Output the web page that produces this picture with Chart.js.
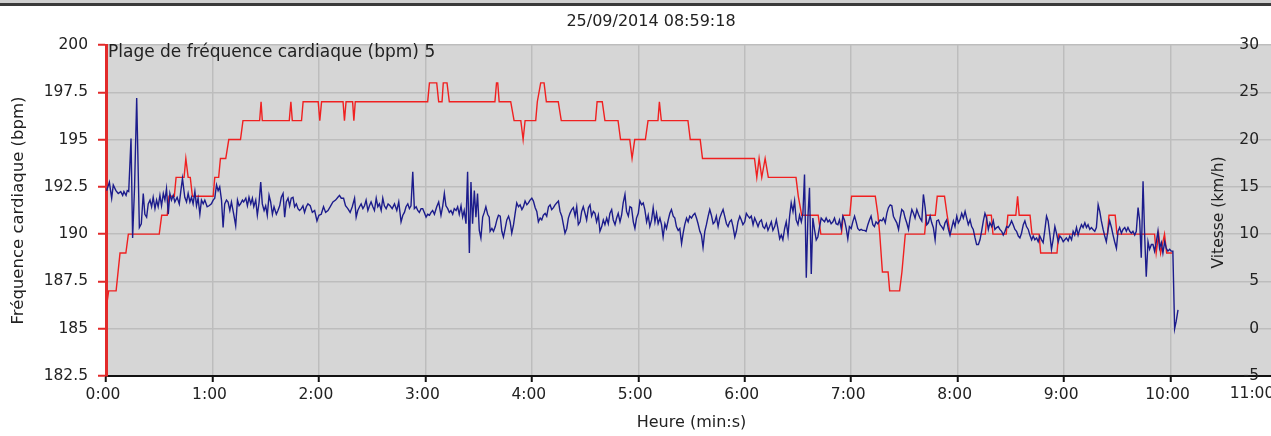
<!DOCTYPE html>
<html lang="fr">
<head>
<meta charset="utf-8">
<title>Fréquence cardiaque et vitesse</title>
<script src="https://cdn.jsdelivr.net/npm/chart.js@4.4.1/dist/chart.umd.min.js"></script>
<style>
  html, body { margin: 0; padding: 0; background: #fff; overflow: hidden; }
  #wrap { position: relative; width: 1271px; height: 436px; overflow: hidden; }
  #wrap canvas { position: absolute; left: 0; top: 0; }
  #topbar { position: absolute; left: 0; top: 0; width: 100%; height: 3px; background: #cfcfcf; border-bottom: 3px solid #3a3a3a; }
</style>
</head>
<body>
<div id="wrap">
  <canvas id="myChart" width="1281" height="436"></canvas>
  <div id="topbar"></div>
</div>
<script>
const dateTitle = "25/09/2014 08:59:18";
const rangeLabel = "Plage de fréquence cardiaque (bpm) 5";

// fréquence cardiaque (bpm), temps en secondes
const hrSec = [0,1.5,5.7,7.9,11.2,12.6,30,31.4,34.5,35.5,38.5,39.5,44,45,46.3,47.5,48.7,60.4,61.3,63.5,
  64.5,67.5,69.2,75.8,77.2,86.6,87.4,88.1,103.3,104.2,105,110.2,111.1,119.6,120.5,121.5,133.6,134.4,135.3,139,
  139.7,140.5,181.3,182.3,186.4,187.5,189.4,190.1,192.2,193.5,219.2,220.1,220.8,221.6,228.1,230,233.8,235.1,236.2,242.2,
  243.1,245,246.9,248.2,254.9,256.6,275.9,276.8,279.7,281.2,288.6,290,295.2,296.5,298,304,305.5,311.1,311.9,313,
  328,329.3,334.9,336.2,365.5,366.8,368.1,369.6,371.5,373.3,388.9,390.2,392.1,401.4,402.9,414.5,415.5,419.2,420.2,433.6,
  435.1,436.1,437.6,440.8,441.7,447.3,448.6,450.5,461.4,462.3,467.4,468.5,472.6,474.1,475.8,495.6,496.5,499,499.9,507.4,
  508.3,512.8,513.8,514.7,520.8,521.9,525.9,526.8,536,536.9,564.5,565.3,568.8,569.8,591,591.9,593.3,594.4,596.6,597.8,
  601];
const hrBpm = [186,187,187,189,189,190,190,191,191,192,192,193,193,194,193,193,192,192,193,193,
  194,194,195,195,196,196,197,196,196,197,196,196,197,197,196,197,197,196,197,197,
  196,197,197,198,198,197,197,198,198,197,197,198,198,197,197,196,196,195,196,196,
  197,198,198,197,197,196,196,197,197,196,196,195,195,194,195,195,196,196,197,196,
  196,195,195,194,194,193,194,193,194,193,193,192,191,191,190,190,191,191,192,192,
  191,190,188,188,187,187,188,190,190,191,191,192,192,191,190,190,191,191,190,190,
  191,191,192,191,191,190,190,189,189,190,190,191,191,190,190,189,190,189,190,189,
  189];

// vitesse (km/h), temps en secondes
const speedSec = [
  0.4,1.9,3.2,4.1,5.6,6.9,8.3,9.4,10.1,11.3,12.0,12.8,14.1,15.0,16.1,17.3,18.8,19.9,21.0,21.9,
  22.9,23.8,24.8,25.7,26.6,27.6,28.5,29.4,30.4,31.3,32.3,33.2,34.1,35.1,36.0,36.9,37.9,38.8,40.1,41.3,
  42.2,43.1,44.4,45.4,46.3,47.3,48.2,49.1,50.1,51.0,51.9,52.9,53.8,54.8,55.7,57.0,58.1,59.4,60.4,61.3,
  62.3,63.2,64.1,65.1,66.0,66.9,67.9,68.8,69.8,70.7,72.0,73.1,74.1,75.0,75.8,76.9,77.6,78.8,79.7,80.6,
  81.6,82.5,83.3,84.4,85.3,86.3,87.2,88.1,89.1,90.0,90.9,91.9,92.8,93.8,94.7,96.0,96.9,97.9,98.8,99.8,
  100.7,101.6,102.6,103.5,104.4,105.4,106.3,107.3,108.2,109.1,110.1,111.0,111.9,112.9,113.8,115.1,116.3,117.6,118.9,120.0,
  121.3,122.6,123.8,125.1,126.4,127.9,129.4,130.7,131.6,132.6,133.9,135.0,136.3,137.6,138.8,140.1,141.0,141.9,142.9,143.8,
  144.8,145.7,146.6,147.6,148.5,149.4,150.4,151.3,152.3,153.2,154.1,155.1,156.0,156.9,157.9,159.0,160.1,161.3,162.6,163.9,
  165.0,166.3,167.3,168.2,169.1,170.1,171.0,171.9,172.9,173.8,174.8,175.7,176.6,177.6,178.5,179.4,180.4,181.3,182.3,183.2,
  184.1,185.1,186.4,187.5,188.8,189.8,190.7,191.6,192.6,193.5,194.4,195.4,196.3,197.3,198.2,199.1,200.1,201.0,201.9,202.9,
  203.8,204.8,205.7,206.6,207.6,208.5,209.4,210.4,211.3,212.3,213.2,214.1,215.1,216.0,
  216.5,217.5,218.4,219.4,220.3,221.2,222.2,223.1,224.0,225.0,225.9,226.9,227.8,228.7,229.7,230.6,
  231.5,232.5,233.4,234.4,235.3,236.2,237.2,238.1,239.0,240.0,240.9,241.9,242.8,243.7,244.7,245.6,
  246.5,247.5,248.4,249.4,250.3,251.2,252.2,253.1,254.0,255.0,255.9,256.9,257.8,258.7,259.7,260.6,
  261.5,262.5,263.4,264.4,265.3,266.2,267.2,268.1,269.0,270.0,270.9,271.9,272.8,273.7,274.7,275.6,
  276.5,277.5,278.4,279.4,280.3,281.2,282.2,283.1,284.0,285.0,285.9,286.9,287.8,288.7,289.7,290.6,
  291.5,292.5,293.4,294.4,295.3,296.2,297.2,298.1,299.0,300.0,300.9,301.9,302.8,303.7,304.7,305.6,
  306.5,307.5,308.4,309.4,310.3,311.2,312.2,313.1,314.0,315.0,315.9,316.9,317.8,318.7,319.7,320.6,
  321.5,322.5,323.4,324.4,325.3,326.2,327.2,328.1,329.0,330.0,330.9,331.9,332.8,333.7,334.7,335.6,
  336.5,337.5,338.4,339.4,340.3,341.2,342.2,343.1,344.0,345.0,345.9,346.9,347.8,348.7,349.7,350.6,
  351.5,352.5,353.4,354.4,355.3,356.2,357.2,358.1,359.0,360.0,360.9,361.9,362.8,363.7,364.7,365.6,
  366.5,367.5,368.4,369.4,370.3,371.2,372.2,373.1,374.0,375.0,375.9,376.9,377.8,378.7,379.7,380.6,
  381.5,382.5,383.4,384.4,385.3,386.2,387.2,388.1,389.0,390.0,390.9,391.9,392.8,393.7,394.7,395.6,
  396.5,397.5,398.4,399.4,400.3,401.2,402.2,403.1,404.0,405.0,405.9,406.9,407.8,408.7,409.7,410.6,
  411.5,412.5,413.4,414.4,415.3,416.2,417.2,418.1,419.0,420.0,420.9,421.9,422.8,423.7,424.7,425.6,
  426.5,427.5,428.4,429.4,430.3,431.2,432.2,433.1,434.0,435.0,
  436.3,437.3,438.2,439.2,440.1,441.0,442.0,442.9,443.8,444.8,445.7,446.7,447.6,448.5,449.5,450.4,
  451.3,452.3,453.2,454.2,455.1,456.0,457.0,457.9,458.8,459.8,460.7,461.7,462.6,463.5,464.5,465.4,
  466.3,467.3,468.2,469.2,470.1,471.0,472.0,472.9,473.8,474.8,475.7,476.7,477.6,478.5,479.5,480.4,
  481.3,482.3,483.2,484.2,485.1,486.0,487.0,487.9,488.8,489.8,490.7,491.7,492.6,493.5,494.5,495.4,
  496.3,497.3,498.2,499.2,500.1,501.0,502.0,502.9,503.8,504.8,505.7,506.7,507.6,508.5,509.5,510.4,
  511.3,512.3,513.2,514.2,515.1,516.0,517.0,517.9,518.8,519.8,520.7,521.7,522.6,523.5,524.5,525.4,
  526.3,527.3,528.2,529.2,530.1,531.0,532.0,532.9,533.8,534.8,535.7,536.7,537.6,538.5,539.5,540.4,
  541.3,542.3,543.2,544.2,545.1,546.0,547.0,547.9,548.8,549.8,550.7,551.7,552.6,553.5,554.5,555.4,
  556.3,557.3,558.2,559.2,560.1,561.0,562.0,562.9,563.8,564.8,565.7,566.7,567.6,568.5,569.5,570.4,
  571.3,572.3,573.2,574.2,575.1,576.0,577.0,577.9,578.8,579.8,580.7,581.7,582.6,583.5,584.5,585.4,
  586.3,587.3,588.2,589.2,590.1,591.0,592.0,592.9,593.8,594.8,595.7,596.7,597.6,598.5,599.5,600.4,
  601.3,602.3,603.2,604.2];
const speedKmh = [
  14.6,15.5,13.8,15.2,14.6,14.3,14.5,14.1,14.5,14.1,14.6,14.5,20.1,9.6,15.0,24.4,10.7,11.1,14.3,12.1,
  11.8,13.2,13.6,12.9,13.9,12.7,13.6,12.9,14.1,13.0,14.3,13.6,14.8,12.1,14.3,13.6,14.1,13.4,13.9,13.2,
  14.6,15.9,13.9,13.4,14.3,13.4,13.9,13.2,14.5,13.0,13.8,12.1,13.6,13.2,13.6,12.9,13.0,13.2,13.6,13.8,
  15.2,14.6,15.0,13.6,10.7,13.2,13.6,13.4,12.5,13.4,12.1,10.9,13.6,13.0,13.2,13.6,13.4,13.8,13.0,13.9,
  13.2,13.8,12.9,13.6,12.0,13.4,15.5,13.2,12.5,13.0,12.0,14.1,13.4,12.1,12.9,12.1,12.5,13.0,13.9,14.3,
  11.8,13.4,13.8,13.0,13.8,13.9,12.9,13.2,12.7,12.5,12.7,13.0,12.3,12.9,13.2,13.0,12.3,12.5,11.4,12.0,
  12.1,12.9,12.3,12.5,12.9,13.4,13.6,13.9,14.1,13.8,13.8,13.0,12.7,12.3,12.9,13.8,11.8,12.5,12.9,13.2,
  12.7,13.0,13.6,12.5,13.0,13.4,12.9,12.5,13.8,12.9,13.2,12.5,13.8,13.0,12.7,13.2,13.0,12.7,13.2,12.5,
  13.4,11.3,12.0,12.3,12.9,13.2,12.7,13.0,16.6,12.7,12.9,12.5,12.3,12.7,12.7,12.3,11.8,12.1,12.0,12.3,
  12.5,12.1,12.9,13.4,12.0,13.0,14.3,13.0,12.7,12.3,12.5,12.1,12.7,12.5,12.9,12.1,13.0,11.8,12.5,11.1,
  16.6,8.0,15.5,11.1,14.6,11.8,14.3,10.4,9.6,11.8,12.3,12.9,12.1,11.8,
  10.3,10.6,10.3,10.8,11.5,12.0,11.9,10.3,9.7,10.6,11.5,11.9,11.3,10.1,11.0,12.2,13.3,12.9,13.1,12.6,
  12.9,13.5,13.1,13.3,13.6,13.8,13.5,12.8,12.4,11.3,11.7,11.5,12.0,12.2,11.9,12.9,13.1,12.6,12.8,13.1,
  13.3,13.5,12.4,11.9,11.0,10.1,10.6,11.7,12.2,12.6,12.8,11.9,12.9,11.0,11.3,12.4,12.9,12.2,11.5,12.8,
  13.1,11.9,12.4,12.2,11.3,12.0,10.3,10.8,11.5,11.0,11.7,11.1,12.2,12.6,11.5,11.0,11.7,12.2,11.3,12.0,
  13.3,14.2,12.4,11.9,12.9,12.8,11.3,10.6,11.7,12.2,13.5,13.1,13.3,12.6,11.3,12.0,10.8,11.5,12.8,11.3,
  12.2,11.1,11.7,11.0,9.7,11.1,10.6,11.5,12.2,12.6,11.9,11.7,10.8,10.4,10.6,9.0,10.1,11.0,11.7,11.3,
  11.9,11.7,12.0,12.2,11.7,11.1,10.3,9.9,8.6,10.3,11.0,11.9,12.6,12.0,11.1,11.3,11.9,10.8,11.7,12.2,
  12.6,11.9,11.1,10.8,11.3,11.5,10.8,9.7,10.3,11.3,11.9,11.5,11.0,11.3,12.2,11.9,11.7,11.9,11.0,11.7,
  11.3,10.8,11.3,11.5,10.8,10.6,11.1,10.4,10.8,11.3,10.4,10.8,11.5,10.6,9.5,9.9,9.4,10.6,11.3,9.9,
  11.9,13.3,12.4,13.5,11.5,11.0,12.0,11.3,12.2,16.3,5.4,11.7,14.9,5.8,11.7,10.4,9.4,9.7,10.8,11.7,
  11.5,11.3,11.7,11.3,11.5,11.1,11.3,11.7,11.1,11.0,11.5,10.6,11.9,11.5,10.6,9.5,10.8,10.6,11.3,11.9,
  11.3,10.6,10.4,10.5,10.4,10.4,10.3,11.0,11.5,11.9,11.0,10.8,11.3,11.1,
  11.5,11.4,11.7,11.2,12.2,12.8,13.1,13.0,11.9,11.5,11.2,10.5,11.7,12.6,12.4,11.7,11.2,10.5,11.7,12.6,
  12.2,11.7,12.6,12.1,11.7,11.4,14.2,12.8,11.0,11.2,11.9,11.2,10.7,9.4,11.4,11.5,11.0,10.8,10.5,11.2,
  11.5,10.5,9.9,10.7,11.4,10.8,11.9,11.2,11.5,12.2,11.7,12.4,11.7,11.0,11.5,10.8,10.5,9.6,8.9,8.9,
  9.4,10.3,11.4,12.2,11.7,10.5,11.2,10.8,11.4,10.5,10.7,10.8,10.5,10.3,9.9,10.3,10.8,10.7,11.0,11.4,
  11.0,10.5,10.3,9.8,9.6,10.1,11.0,11.4,10.8,10.5,9.9,9.4,9.8,9.4,9.6,9.2,9.8,9.4,9.1,10.5,
  11.9,11.4,9.9,8.4,9.4,10.8,10.1,9.2,9.8,9.6,9.2,9.4,9.6,9.3,9.8,9.4,10.3,9.9,10.7,9.9,
  10.5,11.0,10.7,11.2,10.7,11.0,10.5,10.7,10.5,10.3,10.7,13.1,12.4,11.4,10.5,9.8,9.2,10.5,11.4,10.7,
  9.9,9.2,8.5,10.3,10.7,10.1,10.5,10.7,10.3,10.7,10.3,10.1,10.3,9.9,10.3,12.8,11.4,7.5,15.6,9.9,
  5.5,9.2,8.4,8.9,8.9,8.2,9.2,10.3,8.5,9.1,8.0,9.2,8.5,8.2,8.4,8.2,8.2,0.0,0.8,2.0];

if (hrSec.length !== hrBpm.length || speedSec.length !== speedKmh.length) {
  console.warn("longueurs différentes", hrSec.length, hrBpm.length, speedSec.length, speedKmh.length);
}

const red = "#f02020";
const axisRed = "#e22a2a";
const blue = "#1c1c8c";
const gridColor = "#bdbdbd";
const plotBg = "#d6d6d6";
const textColor = "#222";
const fontFamily = '"DejaVu Sans", Verdana, sans-serif';

Chart.defaults.font.family = fontFamily;
Chart.defaults.font.size = 15.5;
Chart.defaults.color = textColor;

function minSec(v) {
  const m = Math.floor(v / 60);
  const s = Math.round(v % 60);
  return m + ":" + String(s).padStart(2, "0");
}

// fond gris et textes placés dans la zone du graphique
const extras = {
  id: "extras",
  beforeDraw(chart) {
    const { ctx, chartArea: a } = chart;
    ctx.save();
    ctx.fillStyle = plotBg;
    ctx.fillRect(a.left, a.top, a.right - a.left, a.bottom - a.top);
    ctx.restore();
  },
  afterDraw(chart) {
    const { ctx, chartArea: a } = chart;
    ctx.save();
    ctx.fillStyle = textColor;
    ctx.textBaseline = "middle";
    ctx.textAlign = "center";
    ctx.font = "16px " + fontFamily;
    ctx.fillText(dateTitle, 651, 22);

    ctx.textAlign = "left";
    ctx.font = "17px " + fontFamily;
    ctx.fillText(rangeLabel, a.left + 2, a.top + 8);

    // dernier libellé de l'axe x, coupé au bord
    ctx.textAlign = "center";
    ctx.textBaseline = "top";
    ctx.font = "15.5px " + fontFamily;
    ctx.fillText(minSec(660), chart.scales.x.getPixelForValue(660) - 25, a.bottom + 10);

    ctx.translate(1219, (a.top + a.bottom) / 2 + 2);
    ctx.rotate(-Math.PI / 2);
    ctx.textBaseline = "middle";
    ctx.font = "15.5px " + fontFamily;
    ctx.fillText("Vitesse (km/h)", 0, 0);
    ctx.restore();
  }
};

const ctx = document.getElementById("myChart");

new Chart(ctx, {
  type: "line",
  data: {
    datasets: [
      {
        label: "Vitesse (km/h)",
        data: speedSec.map((t, i) => ({ x: t, y: speedKmh[i] })),
        yAxisID: "y2",
        borderColor: blue,
        borderWidth: 1.4,
        pointRadius: 0,
        tension: 0,
      },
      {
        label: "Fréquence cardiaque (bpm)",
        data: hrSec.map((t, i) => ({ x: t, y: hrBpm[i] })),
        yAxisID: "y",
        borderColor: red,
        borderWidth: 1.4,
        pointRadius: 0,
        tension: 0,
      },
    ],
  },
  options: {
    responsive: false,
    animation: false,
    devicePixelRatio: 1,
    events: [],
    layout: { autoPadding: false, padding: { top: 45, left: 0, right: 0, bottom: 0 } },
    plugins: { legend: { display: false }, tooltip: { enabled: false } },
    scales: {
      x: {
        type: "linear",
        min: 0,
        max: 660,
        afterFit: (s) => { s.height = 60; },
        ticks: {
          stepSize: 60,
          autoSkip: false,
          maxRotation: 0,
          padding: 4,
          labelOffset: -3,
          callback: (v) => (v === 660 ? "" : minSec(v)),
        },
        grid: {
          color: (c) => (c.index === 0 ? "rgba(0,0,0,0)" : gridColor),
          lineWidth: 1.5,
          tickColor: "#111",
          tickLength: 6,
          tickWidth: 2,
        },
        border: { color: "#111", width: 2 },
        title: { display: true, text: "Heure (min:s)", font: { size: 16 }, padding: { top: 0, bottom: 4 } },
      },
      y: {
        position: "left",
        min: 182.5,
        max: 200,
        afterFit: (s) => { s.width = 106; },
        ticks: { stepSize: 2.5, padding: 10, callback: (v) => String(v) },
        grid: {
          color: (c) => (c.index === 0 ? "rgba(0,0,0,0)" : gridColor),
          lineWidth: 1.5,
          tickColor: axisRed,
          tickLength: 8,
          tickWidth: 2,
        },
        border: { color: axisRed, width: 3 },
        title: { display: true, text: "Fréquence cardiaque (bpm)", font: { size: 16.5 }, padding: { top: 9, bottom: 0 } },
      },
      y2: {
        position: "right",
        min: -5,
        max: 30,
        afterFit: (s) => { s.width = 0; },
        ticks: { stepSize: 5, mirror: true, padding: -18, callback: (v) => String(v) },
        grid: { display: false, drawTicks: false },
        border: { display: false },
      },
    },
  },
  plugins: [extras],
});
</script>
</body>
</html>
